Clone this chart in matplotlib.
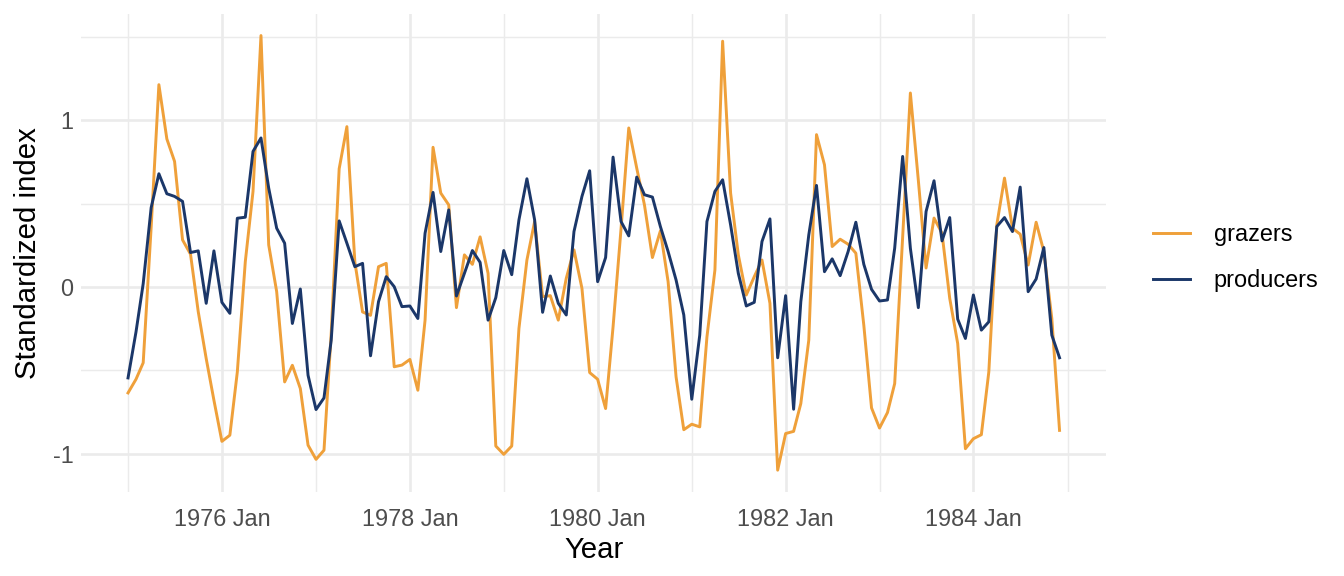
import matplotlib
matplotlib.use("Agg")
import matplotlib.pyplot as plt
import matplotlib.dates as mdates
import pandas as pd

plt.rcParams['font.family'] = ['Liberation Sans', 'DejaVu Sans']

start_month = "1975-01-01"
n_months = 120

grazers = [
    -0.636, -0.554, -0.455, 0.36, 1.215, 0.889, 0.754, 0.283, 0.197, -0.148, -0.43, -0.68,
    -0.927, -0.89, -0.51, 0.152, 0.574, 1.51, 0.253, -0.028, -0.57, -0.47, -0.61, -0.95,
    -1.035, -0.98, -0.28, 0.71, 0.963, 0.15, -0.15, -0.17, 0.122, 0.142, -0.479, -0.469,
    -0.435, -0.62, -0.199, 0.839, 0.564, 0.493, -0.124, 0.193, 0.136, 0.301, 0.082, -0.955,
    -1.005, -0.955, -0.249, 0.162, 0.393, -0.058, -0.052, -0.199, 0.052, 0.223, -0.008, -0.514,
    -0.554, -0.73, -0.239, 0.35, 0.955, 0.714, 0.493, 0.177, 0.337, 0.032, -0.54, -0.857,
    -0.824, -0.84, -0.3, 0.102, 1.476, 0.564, 0.193, -0.048, 0.062, 0.162, -0.098, -1.1,
    -0.88, -0.867, -0.70, -0.319, 0.915, 0.734, 0.243, 0.287, 0.257, 0.203, -0.23, -0.726,
    -0.847, -0.754, -0.58, 0.3, 1.165, 0.64, 0.114, 0.414, 0.323, -0.068, -0.339, -0.971,
    -0.911, -0.887, -0.51, 0.373, 0.654, 0.353, 0.317, 0.132, 0.389, 0.213, -0.189, -0.861,
]

producers = [
    -0.546, -0.27, 0.02, 0.477, 0.68, 0.56, 0.544, 0.514, 0.207, 0.217, -0.098, 0.217,
    -0.092, -0.158, 0.413, 0.419, 0.814, 0.895, 0.594, 0.353, 0.263, -0.219, -0.012, -0.53,
    -0.736, -0.666, -0.32, 0.397, 0.263, 0.122, 0.142, -0.413, -0.088, 0.062, 0.002, -0.118,
    -0.114, -0.189, 0.323, 0.568, 0.213, 0.463, -0.054, 0.082, 0.219, 0.148, -0.199, -0.064,
    0.219, 0.074, 0.403, 0.65, 0.403, -0.152, 0.066, -0.098, -0.168, 0.333, 0.544, 0.698,
    0.032, 0.177, 0.78, 0.393, 0.307, 0.66, 0.554, 0.54, 0.363, 0.213, 0.042, -0.168,
    -0.674, -0.289, 0.393, 0.574, 0.644, 0.373, 0.082, -0.114, -0.092, 0.273, 0.409, -0.425,
    -0.052, -0.734, -0.088, 0.313, 0.61, 0.092, 0.169, 0.068, 0.213, 0.389, 0.136, -0.014,
    -0.084, -0.078, 0.233, 0.784, 0.233, -0.124, 0.453, 0.638, 0.277, 0.417, -0.193, -0.309,
    -0.048, -0.259, -0.209, 0.363, 0.417, 0.333, 0.60, -0.028, 0.048, 0.237, -0.289, -0.425,
]

major_years = ["1976-01-01", "1978-01-01", "1980-01-01", "1982-01-01", "1984-01-01"]
minor_years = ["1975-01-01", "1977-01-01", "1979-01-01", "1981-01-01", "1983-01-01", "1985-01-01"]
y_major = [-1, 0, 1]
y_minor = [-0.5, 0.5, 1.5]

dates = pd.date_range(start_month, periods=n_months, freq="MS")

fig = plt.figure(figsize=(7, 3), dpi=192)
ax = fig.add_axes([0.0606, 0.146, 0.823 - 0.0606, 0.976 - 0.146])

c_gr = "#EFA03A"
c_pr = "#1B3769"
ax.plot(dates, grazers, color=c_gr, lw=1.1, label="grazers", solid_joinstyle="round")
ax.plot(dates, producers, color=c_pr, lw=1.1, label="producers", solid_joinstyle="round")

ax.margins(x=0.05, y=0.05)
ax.set_xticks(pd.to_datetime(major_years))
ax.set_xticks(pd.to_datetime(minor_years), minor=True)
ax.xaxis.set_major_formatter(mdates.DateFormatter("%Y %b"))
ax.set_yticks(y_major)
ax.set_yticks(y_minor, minor=True)
ax.set_yticklabels([str(v) for v in y_major])

ax.grid(which="major", color="#EBEBEB", lw=1.0)
ax.grid(which="minor", color="#EBEBEB", lw=0.55)
ax.set_axisbelow(True)
for s in ax.spines.values():
    s.set_visible(False)
ax.tick_params(which="both", length=0, labelsize=8.8, colors="#4D4D4D")
ax.tick_params(axis="x", pad=6)
ax.tick_params(axis="y", pad=3)

ax.set_xlabel("Year", fontsize=11, color="black", labelpad=2)
ax.set_ylabel("Standardized index", fontsize=11, color="black", labelpad=4)

leg = ax.legend(loc="center left", bbox_to_anchor=(1.025, 0.49), frameon=False,
                fontsize=8.8, handlelength=1.6, handletextpad=1.0, labelspacing=1.0)

fig.savefig("out.png", dpi=192)
